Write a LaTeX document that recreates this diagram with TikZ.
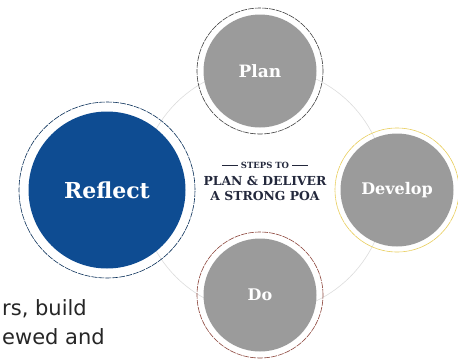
\documentclass[tikz,border=0pt]{standalone}
\usepackage{fontspec}
\setmainfont{DejaVu Serif}
\newfontfamily\bodyfont{DejaVu Sans}
\usetikzlibrary{positioning, calc}

\definecolor{poablue}{RGB}{14,76,146}
\definecolor{stepgrey}{RGB}{155,155,155}
\definecolor{navytext}{RGB}{35,40,60}
\definecolor{ringgrey}{RGB}{220,220,220}
\definecolor{ringgold}{RGB}{232,205,90}
\definecolor{ringbrown}{RGB}{140,70,60}

\begin{document}
\begin{tikzpicture}[
    x=1pt, y=-1pt,
    stepcircle/.style={circle, fill=stepgrey, text=white, font=\bfseries\fontsize{16}{19}\selectfont, minimum size=113pt, inner sep=0pt},
    outerring/.style={circle, draw, line width=0.6pt, dash pattern=on 6pt off 1pt, minimum size=126pt, inner sep=0pt}
]
\useasboundingbox (0,0) rectangle (458,362);

% Ring
\node (ring) [circle, draw=ringgrey, line width=0.6pt, minimum size=246pt, inner sep=0pt] at (263,190) {};

% Rings round the steps
\node (plan_ring) [outerring, draw=black!75] at (260,71) {};
\node (develop_ring) [outerring, draw=ringgold, dash pattern=on 8pt off 0.5pt, minimum size=124pt] at (397,190) {};
\node (do_ring) [outerring, draw=ringbrown] at (260,295) {};
\node (reflect_ring) [outerring, draw=poablue!60!black, minimum size=176pt] at (107,190) {};

% Nodes
\node (plan) [stepcircle, font=\bfseries\fontsize{17}{20}\selectfont] at (plan_ring) {Plan};
\node (develop) [stepcircle] at (develop_ring) {Develop};
\node (do) [stepcircle] at (do_ring) {Do};
\node (reflect) [stepcircle, fill=poablue, minimum size=157pt, font=\bfseries\fontsize{22}{25}\selectfont] at (reflect_ring) {Reflect};

% Centre text
\node (steps) [text=navytext, font=\bfseries\fontsize{8.5}{10}\selectfont] at (265,165) {\rule[2.6pt]{16pt}{0.7pt} STEPS TO \rule[2.6pt]{16pt}{0.7pt}};
\node (deliver) [text=navytext, font=\bfseries\fontsize{12.4}{15.5}\selectfont, align=center, below=1pt of steps] {PLAN \& DELIVER\\A STRONG POA};

% Text cut at the left
\node (body) [anchor=north west, align=left, text=black!85, inner sep=0pt, font=\bodyfont\fontsize{21}{29}\selectfont] at (2,299) {rs, build\\ewed and};
\end{tikzpicture}
\end{document}
